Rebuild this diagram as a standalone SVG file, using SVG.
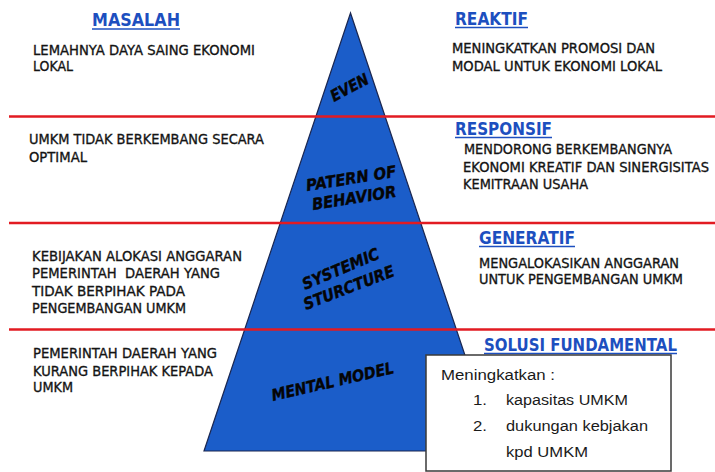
<svg xmlns="http://www.w3.org/2000/svg" width="715" height="472" viewBox="0 0 715 472">
  <style>
    .band { stroke: #e21b22; stroke-width: 2.6; }
    .head { font-family: "DejaVu Sans", sans-serif; font-weight: bold; font-size: 17px; fill: #1d4fbf; }
    .uline { stroke: #1d4fbf; stroke-width: 1.6; }
    .body { font-family: "DejaVu Sans", sans-serif; font-size: 14px; fill: #141414; stroke: #141414; stroke-width: 0.35; }
    .lvl { font-family: "DejaVu Sans", sans-serif; font-weight: bold; font-style: italic; font-size: 16px; fill: #050505; stroke: #050505; stroke-width: 0.4; }
    .box { font-family: "Liberation Sans", sans-serif; font-size: 15.5px; fill: #1a1a1a; }
  </style>

  <rect width="715" height="472" fill="#ffffff"/>

  <!-- iceberg pyramid -->
  <g id="pyramid">
    <polygon points="350.5,13 204,451 497,451" fill="#1b5dc9" stroke="#1a2650" stroke-width="1.2"/>
    <text class="lvl" x="334" y="102" font-size="14" textLength="41" lengthAdjust="spacingAndGlyphs" transform="rotate(-28 334 102)">EVEN</text>
    <text class="lvl" x="307" y="191" textLength="91" lengthAdjust="spacingAndGlyphs" transform="rotate(-9 307 191)">PATERN OF</text>
    <text class="lvl" x="313" y="210" textLength="85" lengthAdjust="spacingAndGlyphs" transform="rotate(-9 313 210)">BEHAVIOR</text>
    <text class="lvl" x="305" y="290" textLength="82" lengthAdjust="spacingAndGlyphs" transform="rotate(-23 305 290)">SYSTEMIC</text>
    <text class="lvl" x="306" y="310" textLength="96" lengthAdjust="spacingAndGlyphs" transform="rotate(-21 306 310)">STURCTURE</text>
    <text class="lvl" x="273" y="401" textLength="125" lengthAdjust="spacingAndGlyphs" transform="rotate(-13 273 401)">MENTAL MODEL</text>
  </g>

  <!-- band separators -->
  <g id="separators">
    <line class="band" x1="9" y1="116.5" x2="715" y2="116.5"/>
    <line class="band" x1="9" y1="223" x2="715" y2="223"/>
    <line class="band" x1="9" y1="329.5" x2="715" y2="329.5"/>
  </g>

  <!-- band 1: event -->
  <g id="masalah-even">
    <text class="head" x="92" y="26" textLength="88" lengthAdjust="spacingAndGlyphs">MASALAH</text>
    <line class="uline" x1="92" y1="29" x2="180" y2="29"/>
    <text class="body" x="33" y="55" textLength="222" lengthAdjust="spacingAndGlyphs">LEMAHNYA DAYA SAING EKONOMI</text>
    <text class="body" x="33" y="71" textLength="40" lengthAdjust="spacingAndGlyphs">LOKAL</text>
  </g>
  <g id="reaktif">
    <text class="head" x="455" y="25" textLength="73" lengthAdjust="spacingAndGlyphs">REAKTIF</text>
    <line class="uline" x1="455" y1="27.5" x2="528" y2="27.5"/>
    <text class="body" x="452" y="53" textLength="203" lengthAdjust="spacingAndGlyphs">MENINGKATKAN PROMOSI DAN</text>
    <text class="body" x="452" y="71" textLength="210" lengthAdjust="spacingAndGlyphs">MODAL UNTUK EKONOMI LOKAL</text>
  </g>

  <!-- band 2: pattern of behavior -->
  <g id="masalah-pattern">
    <text class="body" x="29" y="144" textLength="235" lengthAdjust="spacingAndGlyphs">UMKM TIDAK BERKEMBANG SECARA</text>
    <text class="body" x="29" y="161.5" textLength="58" lengthAdjust="spacingAndGlyphs">OPTIMAL</text>
  </g>
  <g id="responsif">
    <text class="head" x="455" y="135" textLength="97" lengthAdjust="spacingAndGlyphs">RESPONSIF</text>
    <line class="uline" x1="455" y1="137.5" x2="552" y2="137.5"/>
    <text class="body" x="464" y="154" textLength="208" lengthAdjust="spacingAndGlyphs">MENDORONG BERKEMBANGNYA</text>
    <text class="body" x="709" y="171.5" text-anchor="end" textLength="246" lengthAdjust="spacingAndGlyphs">EKONOMI KREATIF DAN SINERGISITAS</text>
    <text class="body" x="463" y="189" textLength="125" lengthAdjust="spacingAndGlyphs">KEMITRAAN USAHA</text>
  </g>

  <!-- band 3: systemic structure -->
  <g id="masalah-structure">
    <text class="body" x="32" y="260.5" textLength="210" lengthAdjust="spacingAndGlyphs">KEBIJAKAN ALOKASI ANGGARAN</text>
    <text class="body" x="32" y="278" textLength="188" lengthAdjust="spacingAndGlyphs" xml:space="preserve">PEMERINTAH  DAERAH YANG</text>
    <text class="body" x="32" y="295.5" textLength="153" lengthAdjust="spacingAndGlyphs">TIDAK BERPIHAK PADA</text>
    <text class="body" x="32" y="312.5" textLength="154" lengthAdjust="spacingAndGlyphs">PENGEMBANGAN UMKM</text>
  </g>
  <g id="generatif">
    <text class="head" x="479" y="244" textLength="96" lengthAdjust="spacingAndGlyphs">GENERATIF</text>
    <line class="uline" x1="479" y1="246.5" x2="575" y2="246.5"/>
    <text class="body" x="479" y="268" textLength="200" lengthAdjust="spacingAndGlyphs">MENGALOKASIKAN ANGGARAN</text>
    <text class="body" x="479" y="283.5" textLength="204" lengthAdjust="spacingAndGlyphs">UNTUK PENGEMBANGAN UMKM</text>
  </g>

  <!-- band 4: mental model -->
  <g id="masalah-mental">
    <text class="body" x="33" y="358" textLength="184" lengthAdjust="spacingAndGlyphs">PEMERINTAH DAERAH YANG</text>
    <text class="body" x="33" y="375.5" textLength="180" lengthAdjust="spacingAndGlyphs">KURANG BERPIHAK KEPADA</text>
    <text class="body" x="33" y="392" textLength="40" lengthAdjust="spacingAndGlyphs">UMKM</text>
  </g>
  <g id="solusi-fundamental">
    <text class="head" x="484" y="351" font-family="Liberation Sans, sans-serif" font-size="17" textLength="193" lengthAdjust="spacingAndGlyphs">SOLUSI FUNDAMENTAL</text>
    <line class="uline" x1="484" y1="353.5" x2="677" y2="353.5"/>
    <rect x="426" y="355" width="245" height="116" fill="#ffffff" stroke="#3a3a3a" stroke-width="1.5"/>
    <text class="box" x="441" y="380" textLength="114" lengthAdjust="spacingAndGlyphs">Meningkatkan :</text>
    <text class="box" x="473" y="405" textLength="14" lengthAdjust="spacingAndGlyphs">1.</text>
    <text class="box" x="506" y="405" textLength="122" lengthAdjust="spacingAndGlyphs">kapasitas UMKM</text>
    <text class="box" x="473" y="431" textLength="14" lengthAdjust="spacingAndGlyphs">2.</text>
    <text class="box" x="506" y="431" textLength="142" lengthAdjust="spacingAndGlyphs">dukungan kebjakan</text>
    <text class="box" x="506" y="456.5" textLength="82" lengthAdjust="spacingAndGlyphs">kpd UMKM</text>
  </g>
</svg>
